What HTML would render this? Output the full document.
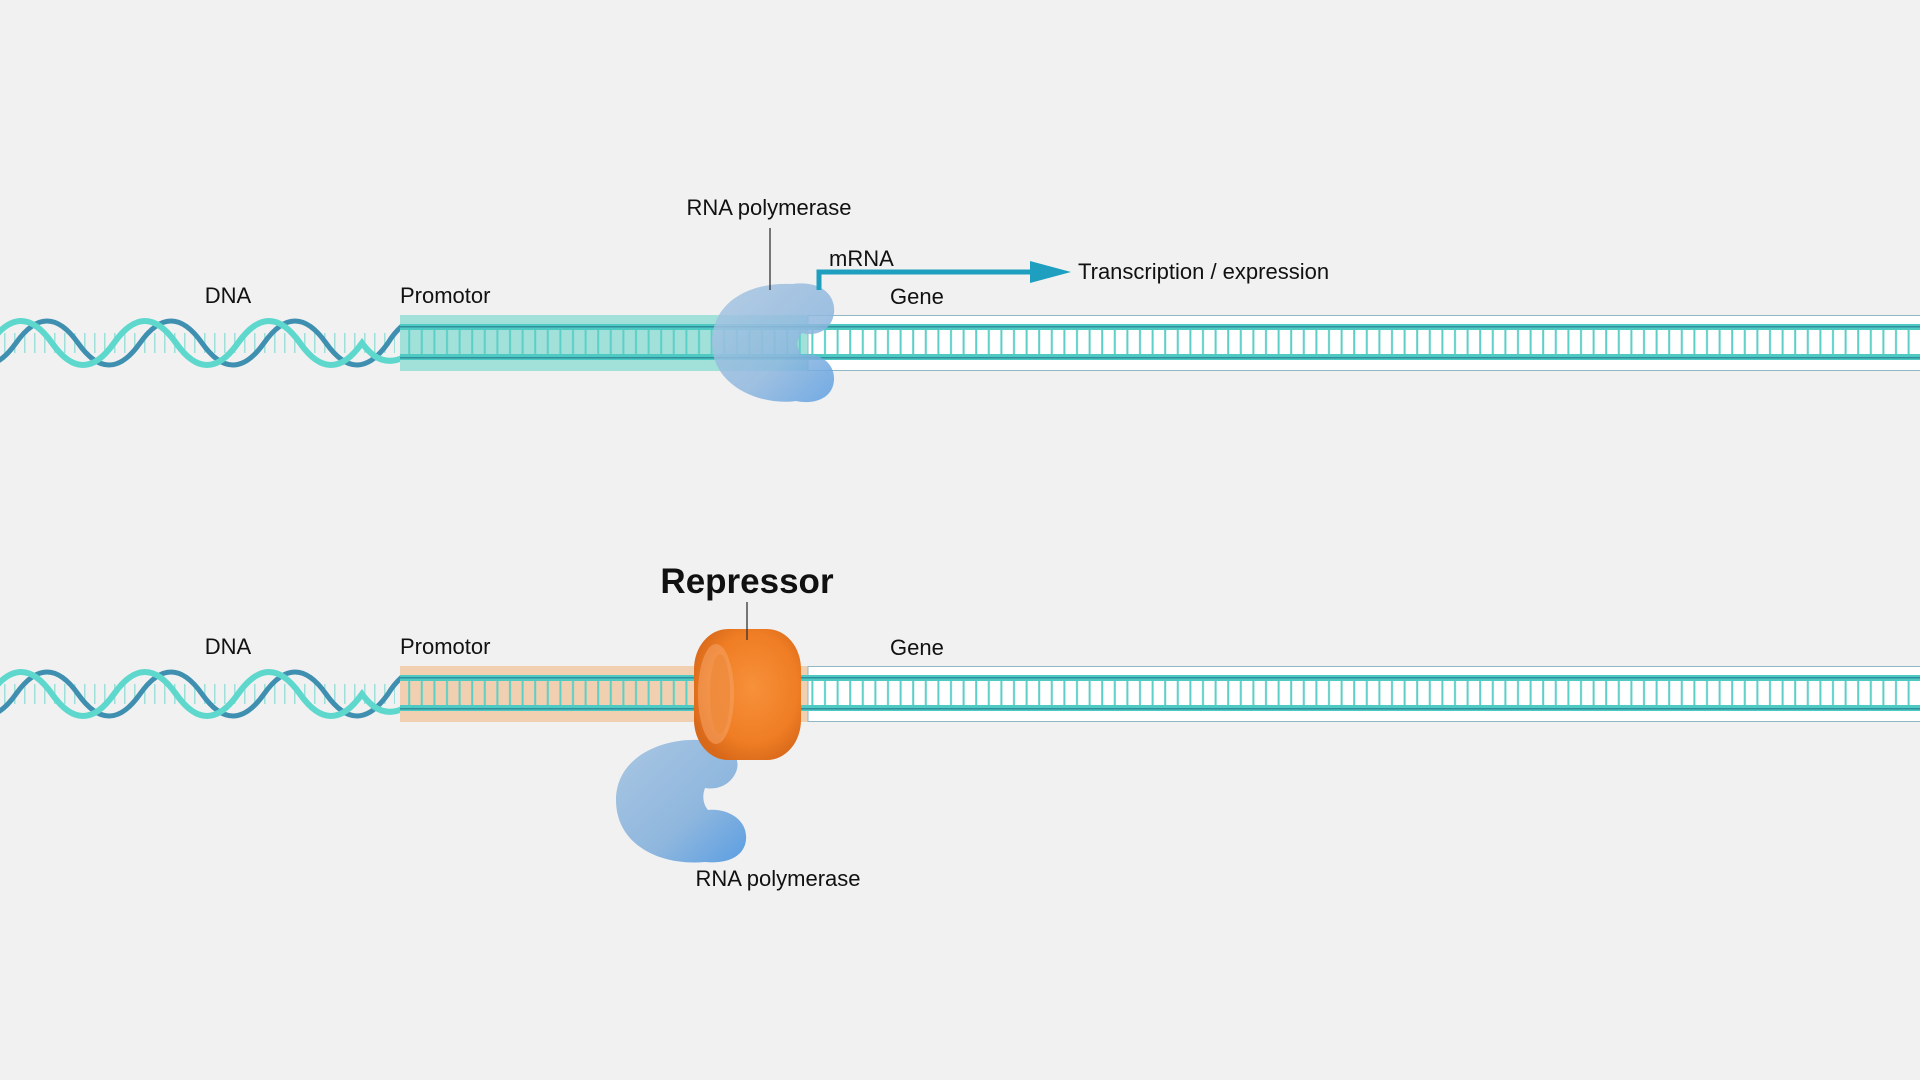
<!DOCTYPE html>
<html><head><meta charset="utf-8"><style>
html,body{margin:0;padding:0;background:#f1f1f1;}
svg{display:block;}
text{font-family:"Liberation Sans",Arial,sans-serif;fill:#111;}
</style></head><body>
<svg width="1920" height="1080" viewBox="0 0 1920 1080" xmlns="http://www.w3.org/2000/svg">
<defs>
<pattern id="rungs" x="0" y="0" width="12.6" height="40" patternUnits="userSpaceOnUse">
<rect x="5" y="0" width="2" height="40" fill="#5ccfc6"/>
</pattern>
<pattern id="hr" x="0" y="0" width="10" height="40" patternUnits="userSpaceOnUse">
<rect x="4" y="0" width="1.5" height="40" fill="#9fe0da"/>
</pattern>
<linearGradient id="pol" x1="0" y1="0" x2="1" y2="1">
<stop offset="0" stop-color="#a9c6e2"/><stop offset="0.6" stop-color="#8fb7de"/><stop offset="1" stop-color="#5b9ee2"/>
</linearGradient>
<radialGradient id="org" cx="0.55" cy="0.45" r="0.6">
<stop offset="0" stop-color="#f7913a"/><stop offset="0.7" stop-color="#ef7d24"/><stop offset="1" stop-color="#d9691a"/>
</radialGradient>
<clipPath id="hc"><rect x="0" y="280" width="400" height="130"/></clipPath>
<g id="helix">
<g clip-path="url(#hc)">
<rect x="0" y="333" width="395" height="20" fill="url(#hr)"/>
<path d="M-46 343 q31 44 62 0 t62 0 t62 0 t62 0 t62 0 t62 0 t62 0 q6 -10 14 -17" fill="none" stroke="#3f8fb0" stroke-width="5"/>
<path d="M-10 343 q31 -44 62 0 t62 0 t62 0 t62 0 t62 0 t62 0 q18 25 40 15" fill="none" stroke="#5ed8cd" stroke-width="6"/>
</g>
</g>
<g id="ladder">
<rect x="808" y="315.5" width="1115" height="55" fill="#ffffff" stroke="#8fb8c4" stroke-width="1"/>
<rect x="400" y="326" width="1520" height="32" fill="url(#rungs)"/>
<rect x="400" y="324" width="1520" height="6" fill="#4fcac2"/>
<rect x="400" y="354" width="1520" height="6" fill="#4fcac2"/>
<rect x="400" y="326" width="1520" height="1.5" fill="#2f8f9f"/>
<rect x="400" y="357" width="1520" height="1.5" fill="#2f8f9f"/>
</g>
</defs>

<!-- TOP ROW -->
<use href="#helix"/>
<rect x="400" y="315" width="408" height="56" fill="#5fd3c6" opacity="0.55"/>
<use href="#ladder"/>
<path d="M792 284 C 822 280 836 296 834 313 C 832 330 816 337 802 333 C 796 340 796 348 802 355 C 818 352 835 362 834 380 C 833 398 815 405 796 401 C 760 406 712 386 712 343 C 712 300 752 282 792 284 Z" fill="url(#pol)" opacity="0.85"/>
<path d="M819 290 V272 H1035" fill="none" stroke="#1f9fc0" stroke-width="5"/>
<polygon points="1030,261 1071,272 1030,283" fill="#1f9fc0"/>
<line x1="770" y1="228" x2="770" y2="290" stroke="#333" stroke-width="1.3"/>
<text x="228" y="303" font-size="22" text-anchor="middle">DNA</text>
<text x="400" y="303" font-size="22">Promotor</text>
<text x="890" y="304" font-size="22">Gene</text>
<text x="769" y="215" font-size="22" text-anchor="middle">RNA polymerase</text>
<text x="829" y="266" font-size="22">mRNA</text>
<text x="1078" y="279" font-size="22">Transcription / expression</text>

<!-- BOTTOM ROW -->
<g transform="translate(0,351)">
<use href="#helix"/>
<rect x="400" y="315" width="408" height="56" fill="#f0c8a0" opacity="0.8"/>
<use href="#ladder"/>
<text x="228" y="303" font-size="22" text-anchor="middle">DNA</text>
<text x="400" y="303" font-size="22">Promotor</text>
<text x="890" y="304" font-size="22">Gene</text>
</g>

<path d="M700 740 C 730 738 742 758 736 772 C 730 786 716 790 705 788 C 702 796 703 804 708 810 C 728 808 748 820 746 840 C 744 858 725 864 705 862 C 660 866 616 845 616 800 C 616 758 660 738 700 740 Z" fill="url(#pol)"/>
<rect x="694" y="629" width="107" height="131" rx="34" ry="40" fill="url(#org)"/>
<ellipse cx="716" cy="694" rx="18" ry="50" fill="#f5a060" opacity="0.6"/>
<ellipse cx="720" cy="694" rx="10" ry="40" fill="#ee8a3a" opacity="0.8"/>
<line x1="747" y1="602" x2="747" y2="640" stroke="#333" stroke-width="1.3"/>
<text x="747" y="593" font-size="35" font-weight="bold" text-anchor="middle">Repressor</text>
<text x="778" y="886" font-size="22" text-anchor="middle">RNA polymerase</text>
</svg>
</body></html>
